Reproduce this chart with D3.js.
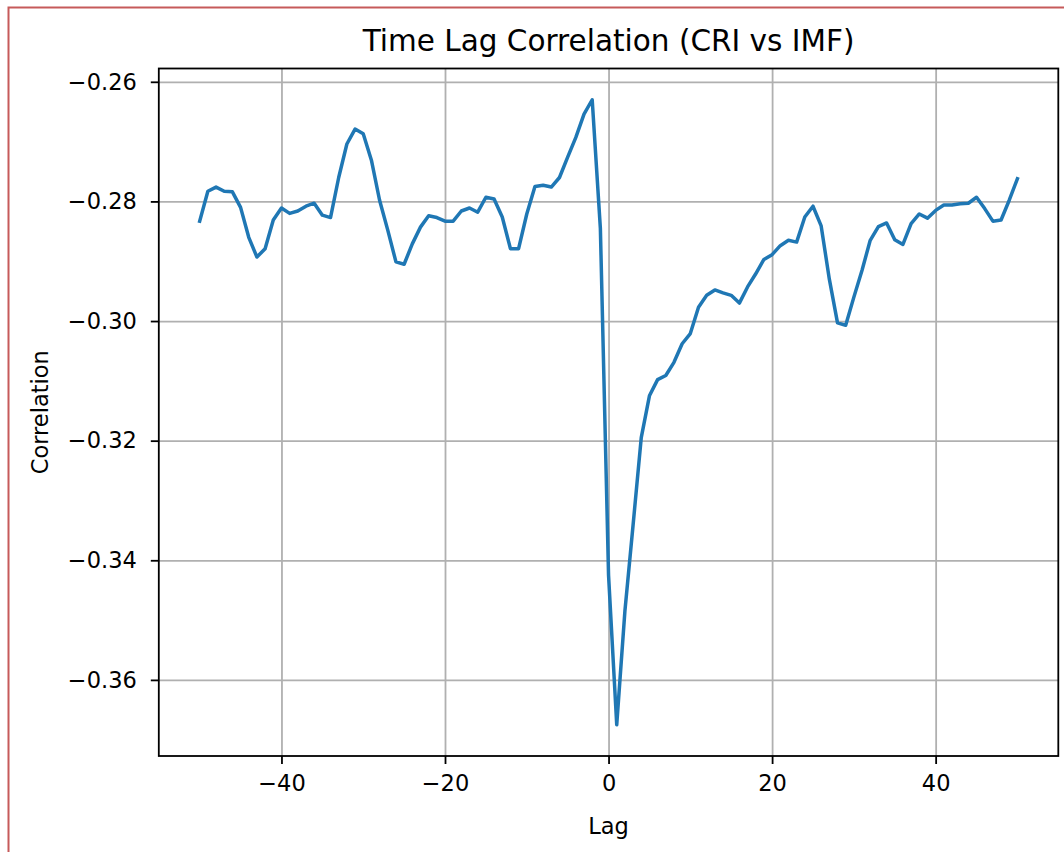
<!DOCTYPE html>
<html>
<head>
<meta charset="utf-8">
<script src="https://cdn.jsdelivr.net/npm/d3@7"></script>
<style>
  body { margin: 0; background: #fff; }
  svg { display: block; font-family: "DejaVu Sans", sans-serif; }
</style>
</head>
<body>
<div id="chart"></div>
<script>
// Data
let lags = [-50, -49, -48, -47, -46, -45, -44, -43, -42, -41, -40, -39, -38, -37, -36, -35, -34, -33, -32, -31,
  -30, -29, -28, -27, -26, -25, -24, -23, -22, -21, -20, -19, -18, -17, -16, -15, -14, -13, -12, -11,
  -10, -9, -8, -7, -6, -5, -4, -3, -2, -1, 0, 1, 2, 3, 4, 5, 6, 7, 8, 9,
  10, 11, 12, 13, 14, 15, 16, 17, 18, 19, 20, 21, 22, 23, 24, 25, 26, 27, 28, 29,
  30, 31, 32, 33, 34, 35, 36, 37, 38, 39, 40, 41, 42, 43, 44, 45, 46, 47, 48, 49, 50]

let correlation = [-0.2833, -0.2783, -0.2776, -0.2783, -0.2784, -0.2810, -0.2860, -0.2893, -0.2879, -0.2831,
  -0.2811, -0.2820, -0.2816, -0.2808, -0.2803, -0.2823, -0.2827, -0.2760, -0.2704, -0.2679,
  -0.2687, -0.2731, -0.2798, -0.2848, -0.2901, -0.2905, -0.2871, -0.2843, -0.2824, -0.2827,
  -0.2833, -0.2833, -0.2816, -0.2811, -0.2818, -0.2793, -0.2796, -0.2826, -0.2879, -0.2879,
  -0.2821, -0.2775, -0.2773, -0.2776, -0.2760, -0.2726, -0.2693, -0.2654, -0.2630, -0.2845,
  -0.3425, -0.3675, -0.3485, -0.3341, -0.3195, -0.3125, -0.3098, -0.3091, -0.3069, -0.3038,
  -0.3021, -0.2977, -0.2957, -0.2948, -0.2953, -0.2957, -0.2970, -0.2943, -0.2921, -0.2897,
  -0.2889, -0.2874, -0.2865, -0.2868, -0.2826, -0.2808, -0.2841, -0.2930, -0.3003, -0.3007,
  -0.2960, -0.2915, -0.2865, -0.2842, -0.2836, -0.2864, -0.2872, -0.2837, -0.2821, -0.2828,
  -0.2815, -0.2806, -0.2806, -0.2804, -0.2803, -0.2793, -0.2812, -0.2833, -0.2831, -0.2798,
  -0.2762]

let xTicks = [-40, -20, 0, 20, 40]
let yTicks = [-0.36, -0.34, -0.32, -0.30, -0.28, -0.26]

let data = lags.map((l, i) => ({lag: l, value: correlation[i]}))

let W = 1064, H = 852
let plot = {left: 158.8, right: 1058.3, top: 68.5, bottom: 756}

let svg = d3.select("#chart")
  .append("svg")
    .attr("width", W)
    .attr("height", H)

// frame round the picture (only left and top are visible)
svg.append("rect")
  .attr("x", 8.5)
  .attr("y", 7.5)
  .attr("width", W + 20)
  .attr("height", H + 20)
  .attr("fill", "none")
  .attr("stroke", "#c65a5a")
  .attr("stroke-width", 2)

// matplotlib style 5% margins
let xExt = d3.extent(lags), yExt = d3.extent(correlation)
let xPad = (xExt[1] - xExt[0]) * 0.05, yPad = (yExt[1] - yExt[0]) * 0.05

let x = d3.scaleLinear()
  .domain([xExt[0] - xPad, xExt[1] + xPad])
  .range([plot.left, plot.right])

let y = d3.scaleLinear()
  .domain([yExt[0] - yPad, yExt[1] + yPad])
  .range([plot.bottom, plot.top])

let fontSize = 22.5

// grid
svg.append("g")
  .attr("transform", "translate(0," + plot.bottom + ")")
  .call(d3.axisBottom(x).tickValues(xTicks).tickSize(-(plot.bottom - plot.top)).tickFormat(""))
  .call(g => g.select(".domain").remove())
  .selectAll("line")
    .attr("stroke", "#b0b0b0")
    .attr("stroke-width", 1.8)

svg.append("g")
  .attr("transform", "translate(" + plot.left + ",0)")
  .call(d3.axisLeft(y).tickValues(yTicks).tickSize(-(plot.right - plot.left)).tickFormat(""))
  .call(g => g.select(".domain").remove())
  .selectAll("line")
    .attr("stroke", "#b0b0b0")
    .attr("stroke-width", 1.8)

// line
svg.append("path")
  .datum(data)
  .attr("fill", "none")
  .attr("stroke", "#1f77b4")
  .attr("stroke-width", 3.5)
  .attr("stroke-linejoin", "round")
  .attr("stroke-linecap", "square")
  .attr("d", d3.line().x(d => x(d.lag)).y(d => y(d.value)))

// spines
svg.append("rect")
  .attr("x", plot.left)
  .attr("y", plot.top)
  .attr("width", plot.right - plot.left)
  .attr("height", plot.bottom - plot.top)
  .attr("fill", "none")
  .attr("stroke", "#000")
  .attr("stroke-width", 1.8)

// axes
let xAxis = svg.append("g")
  .attr("transform", "translate(0," + plot.bottom + ")")
  .call(d3.axisBottom(x).tickValues(xTicks).tickSize(8).tickPadding(11).tickFormat(d3.format("d")))
  .call(g => g.select(".domain").remove())
xAxis.selectAll("line").attr("stroke", "#000").attr("stroke-width", 1.8)
xAxis.selectAll("text")
  .attr("fill", "#000")
  .style("font-size", fontSize + "px")
  .style("font-family", "DejaVu Sans")

let yAxis = svg.append("g")
  .attr("transform", "translate(" + plot.left + ",0)")
  .call(d3.axisLeft(y).tickValues(yTicks).tickSize(8).tickPadding(14).tickFormat(d3.format(".2f")))
  .call(g => g.select(".domain").remove())
yAxis.selectAll("line").attr("stroke", "#000").attr("stroke-width", 1.8)
yAxis.selectAll("text")
  .attr("fill", "#000")
  .style("font-size", fontSize + "px")
  .style("font-family", "DejaVu Sans")

// title and labels
svg.append("text")
  .attr("x", (plot.left + plot.right) / 2)
  .attr("y", 51)
  .attr("text-anchor", "middle")
  .style("font-size", "29.5px")
  .text("Time Lag Correlation (CRI vs IMF)")

svg.append("text")
  .attr("x", (plot.left + plot.right) / 2)
  .attr("y", 834)
  .attr("text-anchor", "middle")
  .style("font-size", fontSize + "px")
  .text("Lag")

svg.append("text")
  .attr("transform", "translate(48," + (plot.top + plot.bottom) / 2 + ") rotate(-90)")
  .attr("text-anchor", "middle")
  .style("font-size", fontSize + "px")
  .text("Correlation")
</script>
</body>
</html>
